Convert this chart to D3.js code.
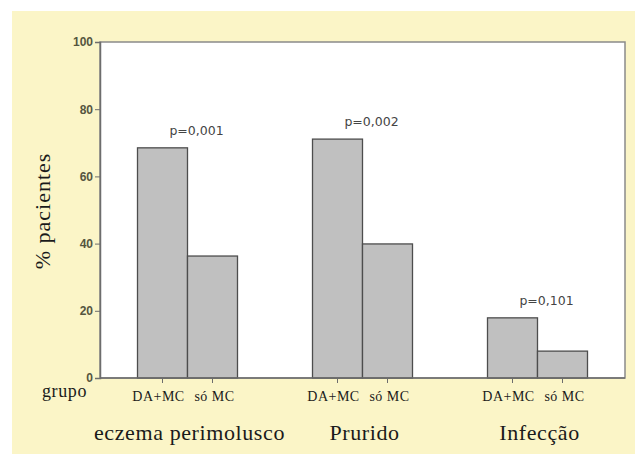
<!DOCTYPE html>
<html>
<head>
<meta charset="utf-8">
<script src="https://cdn.jsdelivr.net/npm/d3@7"></script>
<style>
    html, body { margin: 0; padding: 0; background: #fff; }
    svg { display: block; }
    .axis-y text { font-family: "Liberation Sans", Arial, sans-serif; font-weight: bold; font-size: 12px; fill: #55553f; }
    .axis path, .axis line { stroke: #6d6d6d; }
    .serif { font-family: "Liberation Serif", "Times New Roman", serif; fill: #1a1a1a; }
    .pval { font-family: "DejaVu Sans", sans-serif; font-size: 12.5px; fill: #444; }
</style>
</head>
<body>
<svg id="chart" width="635" height="454"></svg>
<script>
const categories = ["eczema perimolusco", "Prurido", "Infecção"];
const groups = ["DA+MC", "só MC"];
const values = [
    [68.5, 36.3],
    [71.1, 39.9],
    [17.9, 8.0]
];
const pLabels = ["p=0,001", "p=0,002", "p=0,101"];
const yTicks = [0, 20, 40, 60, 80, 100];

const M = {top: 42, right: 10, bottom: 76, left: 100};
const W = 635, H = 454;

let svg = d3.select("#chart");

// yellow panel
svg.append("rect")
    .attr("x", 12).attr("y", 11)
    .attr("width", W - 12).attr("height", H - 11)
    .attr("fill", "#fbf5c7");

let w = W - M.left - M.right,
    h = H - M.top - M.bottom;

let g = svg.append("g").attr("transform", `translate(${M.left},${M.top})`);

// plot area
g.append("rect")
    .attr("width", w).attr("height", h)
    .attr("fill", "#fff")
    .attr("stroke", "#8a8a8a")
    .attr("stroke-width", 1.5);

let x0 = d3.scaleBand().domain(categories).range([0, w]);
let x1 = d3.scaleBand().domain(groups).range([0, x0.bandwidth()]).paddingOuter(0.75);
let y = d3.scaleLinear().domain([0, 100]).range([h, 0]);

let cat = g.selectAll("g.cat")
    .data(categories.map((c, i) => ({c, i, vals: values[i]})))
    .enter().append("g")
    .attr("class", "cat")
    .attr("transform", d => `translate(${x0(d.c)},0)`);

cat.selectAll("rect")
    .data(d => d.vals.map((v, j) => ({k: groups[j], v})))
    .enter().append("rect")
    .attr("x", d => x1(d.k))
    .attr("y", d => y(d.v))
    .attr("width", x1.bandwidth())
    .attr("height", d => h - y(d.v))
    .attr("fill", "#c0c0c0")
    .attr("stroke", "#4d4d4d")
    .attr("stroke-width", 1.3);

// p-values above tallest bar
cat.append("text")
    .attr("class", "pval")
    .attr("x", x0.bandwidth() / 2 + 9)
    .attr("y", d => y(d3.max(d.vals)) - 13)
    .attr("text-anchor", "middle")
    .text(d => pLabels[d.i]);

// small x ticks under each bar
cat.selectAll("line.xt")
    .data(groups)
    .enter().append("line")
    .attr("class", "xt")
    .attr("x1", d => x1(d) + x1.bandwidth() / 2)
    .attr("x2", d => x1(d) + x1.bandwidth() / 2)
    .attr("y1", h).attr("y2", h + 5)
    .attr("stroke", "#6d6d6d");

// group labels (first nudged left, second right, like the original)
cat.selectAll("text.grp")
    .data(groups)
    .enter().append("text")
    .attr("class", "grp serif")
    .attr("x", d => x1(d) + x1.bandwidth() / 2)
    .attr("dx", (d, i) => i === 0 ? -4 : 2)
    .attr("y", h + 23)
    .attr("text-anchor", "middle")
    .style("font-size", "14px")
    .style("letter-spacing", "0.5px")
    .text(d => d);

// category labels
cat.append("text")
    .attr("class", "serif")
    .attr("x", x0.bandwidth() / 2 + 2)
    .attr("y", h + 62)
    .attr("text-anchor", "middle")
    .style("font-size", "22px")
    .style("letter-spacing", "0.6px")
    .text(d => d.c);

// y axis
let yAxis = d3.axisLeft(y).tickValues(yTicks).tickSize(5).tickPadding(2);
g.append("g")
    .attr("class", "axis axis-y")
    .call(yAxis)
    .call(s => s.select(".domain").attr("stroke-width", 1.5));

// x baseline
g.append("line")
    .attr("x1", 0).attr("x2", w)
    .attr("y1", h).attr("y2", h)
    .attr("stroke", "#6d6d6d").attr("stroke-width", 1.5);

// y axis title
svg.append("text")
    .attr("class", "serif")
    .attr("transform", "translate(50,211) rotate(-90)")
    .attr("text-anchor", "middle")
    .style("font-size", "22px")
    .style("letter-spacing", "1px")
    .text("% pacientes");

svg.append("text")
    .attr("class", "serif")
    .attr("x", 42).attr("y", 397)
    .style("font-size", "18px")
    .style("letter-spacing", "0.6px")
    .text("grupo");
</script>
</body>
</html>
